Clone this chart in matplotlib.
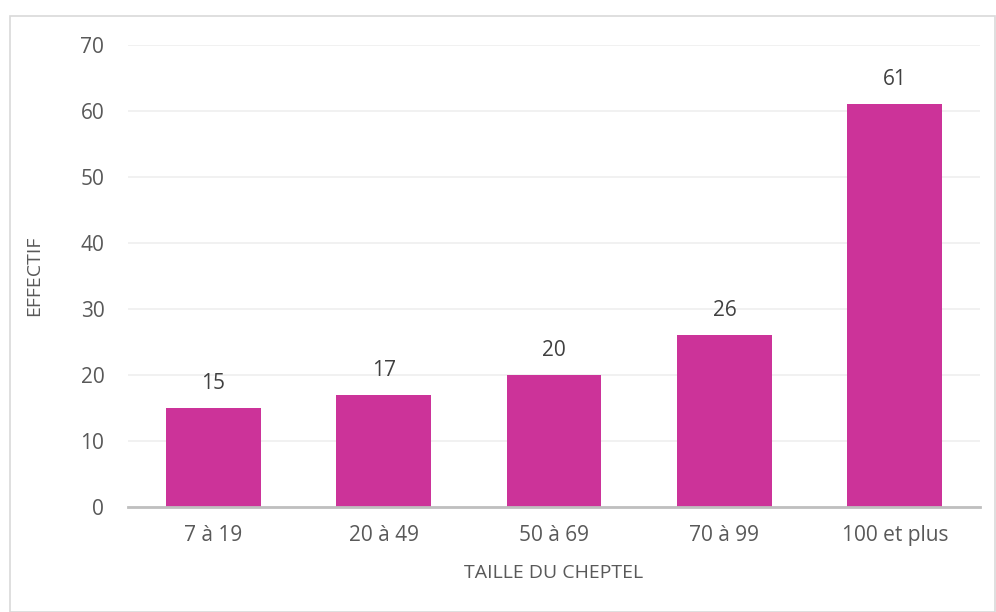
import matplotlib.pyplot as plt
from matplotlib.patches import Rectangle

categories = ['7 à 19', '20 à 49', '50 à 69', '70 à 99', '100 et plus']
effectif = [15, 17, 20, 26, 61]
y_ticks = [0, 10, 20, 30, 40, 50, 60, 70]

plt.rcParams['font.family'] = ['Open Sans', 'DejaVu Sans']
text_color = '#595959'

fig = plt.figure(figsize=(9.96, 6.12), dpi=100)
ax = fig.add_axes([0.1285, 0.1716, 0.8555, 0.7549])

x = range(len(categories))
ax.bar(x, effectif, width=0.557, color='#CC3399', zorder=3)

for i, v in enumerate(effectif):
    ax.annotate(str(v), (i, v), textcoords='offset points', xytext=(0, 10),
                ha='center', va='bottom', fontsize=15, color='#404040')

ax.set_xlim(-0.5, len(categories) - 0.5)
ax.set_ylim(0, 70)
ax.set_yticks(y_ticks)
ax.set_xticks(list(x))
ax.set_xticklabels(categories)
ax.tick_params(axis='both', length=0, labelsize=15, labelcolor=text_color)
ax.tick_params(axis='x', pad=13)
ax.tick_params(axis='y', pad=17)
ax.yaxis.grid(True, color='#EFEFEF', linewidth=1.2, zorder=0)

for side in ['top', 'right', 'left']:
    ax.spines[side].set_visible(False)
ax.spines['bottom'].set_color('#BFBFBF')
ax.spines['bottom'].set_linewidth(2)
ax.spines['bottom'].set_zorder(4)

ax.set_xlabel('TAILLE DU CHEPTEL', fontsize=14, color=text_color, labelpad=13)
ax.set_ylabel('EFFECTIF', fontsize=14, color=text_color, labelpad=27)

fig.patches.append(Rectangle((10 / 996, 0), 985 / 996, 596 / 612, transform=fig.transFigure,
                             fill=False, edgecolor='#D9D9D9', linewidth=1.2))

plt.savefig('out.png')
